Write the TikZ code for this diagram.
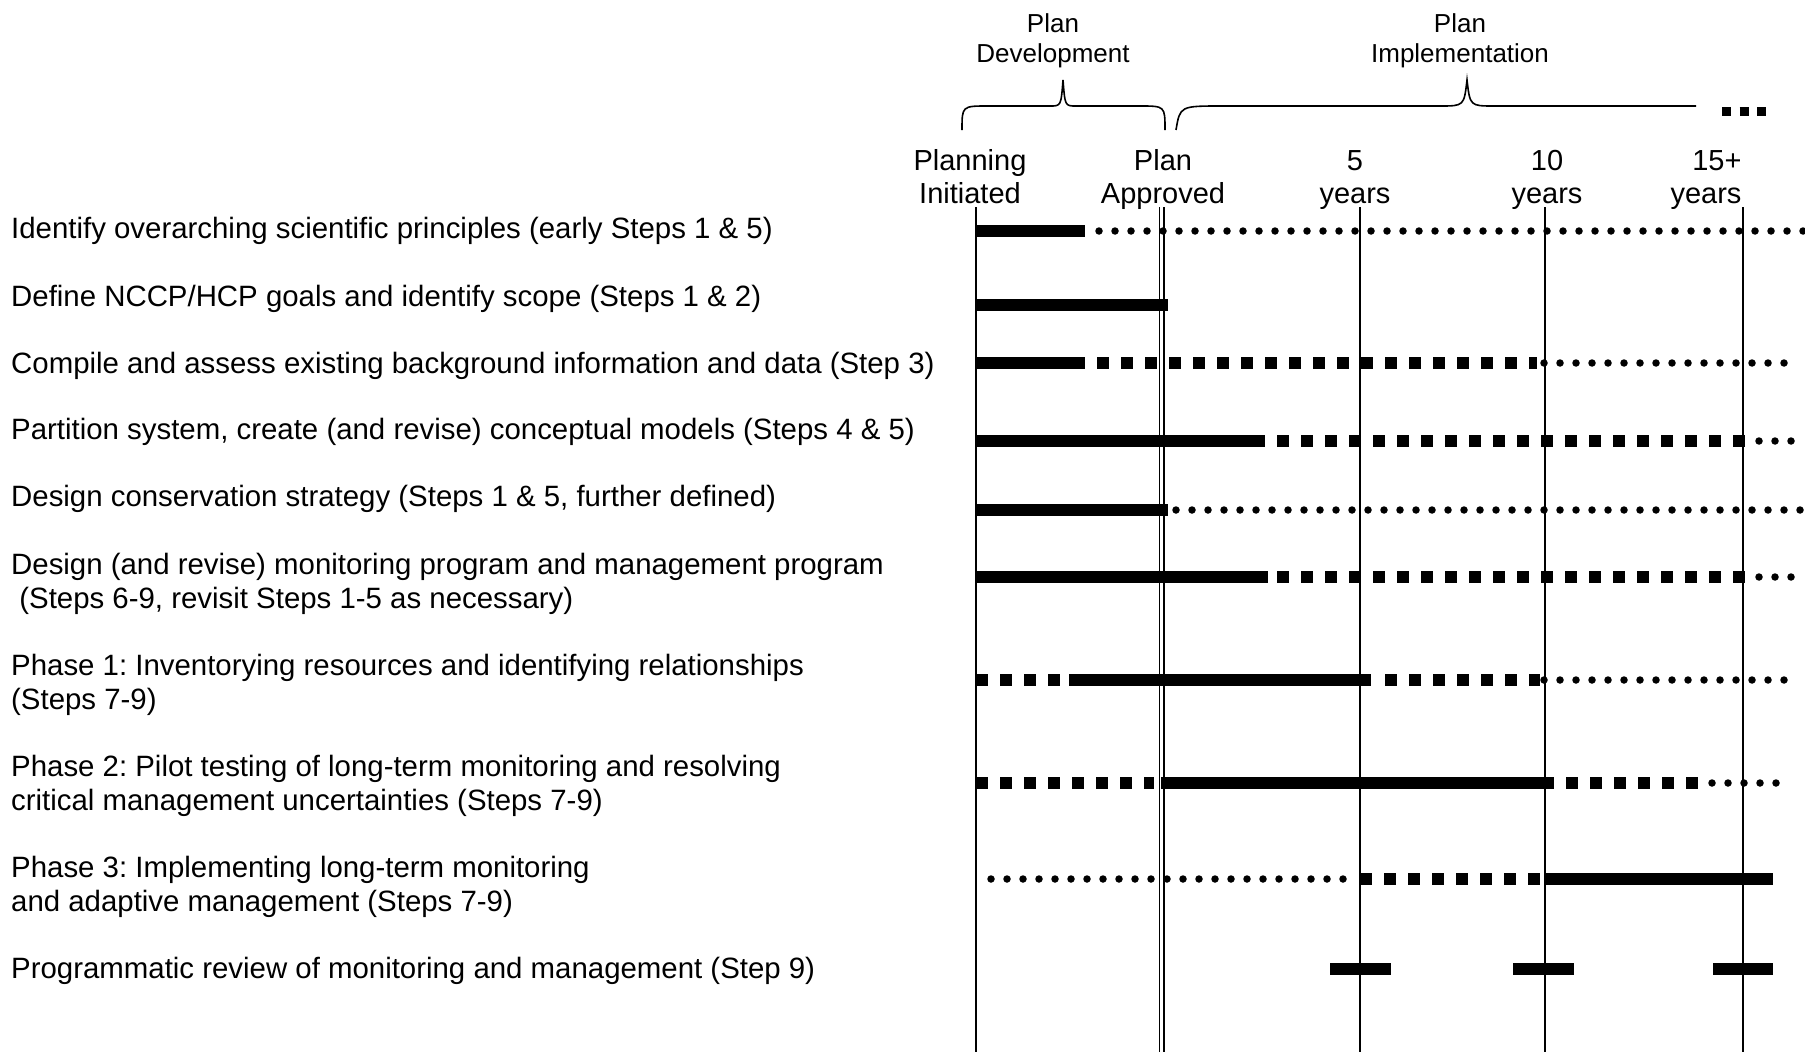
\documentclass[tikz,border=0pt]{standalone}
\usepackage{fontspec}
\setmainfont{Liberation Sans}
\frenchspacing
\usetikzlibrary{positioning}
\tikzset{
  rowtext/.style={ % text of one activity row
    anchor=base west, inner sep=0pt, align=left,
    font=\fontsize{29.4}{33.5}\selectfont
  },
  marktext/.style={ % text over one time mark
    anchor=base, inner sep=0pt, align=center,
    font=\fontsize{29}{33}\selectfont
  },
  phasetext/.style={ % text over one brace
    anchor=base, inner sep=0pt, align=center,
    font=\fontsize{26}{30}\selectfont
  },
  solidbar/.style={line width=12pt},  % work under way
  dashbar/.style={ % work in part
    line width=12pt, dash pattern=on 12pt off 12pt
  },
  dotbar/.style={ % work now and then
    line width=7.5pt, line cap=round, dash pattern=on 0pt off 16pt
  },
  timeline/.style={line width=1.6pt},
  bracket/.style={line width=1.6pt}
}

\begin{document}
\begin{tikzpicture}[x=1pt, y=-1pt]
  \useasboundingbox (0,0) rectangle (1805,1052);

  % time marks (base = last line)
  \node[marktext] (pi_text) at (970,203) {Planning\\Initiated};
  \node[marktext] (pa_text) at (1163,203) {Plan\\Approved};
  \node[marktext] (y5_text) at (1355,203) {5\\years};
  \node[marktext] (y10_text) at (1547,203) {10\\years};
  \node[marktext, align=right] (y15_text) at (1706,203) {15+\\years};
  \node[phasetext] (dev_text) at (1053,62) {Plan\\Development};
  \node[phasetext] (impl_text) at (1460,62) {Plan\\Implementation};

  \draw[timeline] (976,207) -- (976,1052);
  \draw[timeline] (1159.5,207) -- (1159.5,1052) (1164,207) -- (1164,1052);
  \draw[timeline] (1360,207) -- (1360,1052);
  \draw[timeline] (1545,207) -- (1545,1052);
  \draw[timeline] (1743,207) -- (1743,1052);

  % braces
  \draw[bracket] (962,130) .. controls (962,106) .. (988,106) -- (1050,106)
    .. controls (1061,106) .. (1063,80) .. controls (1065,106) .. (1076,106)
    -- (1140,106) .. controls (1165,106) .. (1165,130);
  \draw[bracket] (1176,130) .. controls (1180,106) .. (1222,106) -- (1440,106)
    .. controls (1464,106) .. (1467,80) .. controls (1470,106) .. (1494,106)
    -- (1696,106);
  \draw[line width=9pt, dash pattern=on 9pt off 8.5pt] (1722,111.5) -- (1766,111.5);

  % rows
  \node[rowtext] (r1) at (11,238) {Identify overarching scientific principles (early Steps 1 \& 5)};
  \node[rowtext] (r2) at (11,306) {Define NCCP/HCP goals and identify scope (Steps 1 \& 2)};
  \node[rowtext] (r3) at (11,373) {Compile and assess existing background information and data (Step 3)};
  \node[rowtext] (r4) at (11,439) {Partition system, create (and revise) conceptual models (Steps 4 \& 5)};
  \node[rowtext] (r5) at (11,506) {Design conservation strategy (Steps 1 \& 5, further defined)};
  \node[rowtext] (r6) at (11,608) {Design (and revise) monitoring program and management program\\\ (Steps 6-9, revisit Steps 1-5 as necessary)};
  \node[rowtext] (r7) at (11,709) {Phase 1: Inventorying resources and identifying relationships\\(Steps 7-9)};
  \node[rowtext] (r8) at (11,810) {Phase 2: Pilot testing of long-term monitoring and resolving\\critical management uncertainties (Steps 7-9)};
  \node[rowtext] (r9) at (11,911) {Phase 3: Implementing long-term monitoring\\and adaptive management (Steps 7-9)};
  \node[rowtext] (r10) at (11,978) {Programmatic review of monitoring and management (Step 9)};

  \draw[solidbar] (976,231) -- (1085,231);
  \draw[dotbar] (1099,231) -- (1806,231);

  \draw[solidbar] (976,305) -- (1168,305);

  \draw[solidbar] (976,363) -- (1085,363);
  \draw[dashbar] (1097,363) -- (1537,363);
  \draw[dotbar] (1544,363) -- (1785,363);

  \draw[solidbar] (976,441) -- (1265,441);
  \draw[dashbar] (1277,441) -- (1745,441);
  \draw[dotbar] (1759,441) -- (1792,441);

  \draw[solidbar] (976,510) -- (1168,510);
  \draw[dotbar] (1176,510) -- (1806,510);

  \draw[solidbar] (976,577) -- (1268,577);
  \draw[dashbar] (1277,577) -- (1745,577);
  \draw[dotbar] (1759,577) -- (1792,577);

  \draw[dashbar] (976,680) -- (1069,680);
  \draw[solidbar] (1069,680) -- (1371,680);
  \draw[dashbar] (1385,680) -- (1540,680);
  \draw[dotbar] (1544,680) -- (1785,680);

  \draw[dashbar] (976,783) -- (1154,783);
  \draw[solidbar] (1161,783) -- (1554,783);
  \draw[dashbar] (1566,783) -- (1700,783);
  \draw[dotbar] (1712,783) -- (1777,783);

  \draw[dotbar] (991,879) -- (1345,879);
  \draw[dashbar] (1360,879) -- (1540,879);
  \draw[solidbar] (1544,879) -- (1773,879);

  \draw[solidbar] (1330,969) -- (1391,969);
  \draw[solidbar] (1513,969) -- (1574,969);
  \draw[solidbar] (1713,969) -- (1773,969);
\end{tikzpicture}
\end{document}
